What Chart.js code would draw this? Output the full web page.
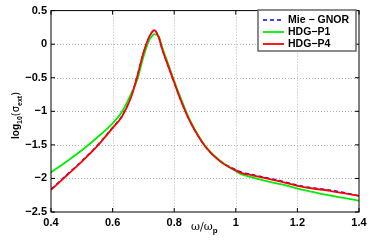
<!DOCTYPE html>
<html>
<head>
<meta charset="utf-8">
<script src="https://cdn.jsdelivr.net/npm/chart.js@4.4.1/dist/chart.umd.min.js"></script>
<style>
  html, body { margin: 0; padding: 0; background: #fff; }
  #wrap { width: 374px; height: 242px; }
</style>
</head>
<body>
<div id="wrap"><canvas id="c"></canvas></div>
<script>
// frequency ratio omega / omega_p
const freq = [0.40, 0.45, 0.50, 0.55, 0.60, 0.63, 0.66, 0.68, 0.70, 0.72, 0.73, 0.735, 0.75, 0.76, 0.78,
  0.80, 0.82, 0.85, 0.90, 0.95, 1.00, 1.02, 1.05, 1.10, 1.15, 1.20, 1.25, 1.30, 1.35, 1.40]

// log10 of extinction cross section
const mieGnor = [-2.16, -1.95, -1.74, -1.51, -1.24, -1.07, -0.78, -0.47, -0.13, 0.12, 0.19, 0.21, 0.10, -0.06, -0.32,
  -0.57, -0.82, -1.14, -1.52, -1.74, -1.87, -1.91, -1.94, -1.99, -2.04, -2.10, -2.14, -2.17, -2.21, -2.26]
const hdgP1 = [-1.91, -1.75, -1.58, -1.39, -1.18, -1.01, -0.74, -0.53, -0.19, 0.07, 0.13, 0.15, 0.11, -0.03, -0.29,
  -0.55, -0.79, -1.12, -1.51, -1.74, -1.89, -1.94, -1.98, -2.04, -2.09, -2.15, -2.20, -2.25, -2.29, -2.33]
const hdgP4 = [-2.17, -1.96, -1.75, -1.52, -1.25, -1.08, -0.79, -0.48, -0.13, 0.12, 0.19, 0.21, 0.10, -0.06, -0.32,
  -0.57, -0.82, -1.14, -1.52, -1.75, -1.88, -1.92, -1.95, -2.00, -2.05, -2.11, -2.15, -2.18, -2.22, -2.26]

const xTicks = [0.4, 0.6, 0.8, 1, 1.2, 1.4]
const yTicks = [0.5, 0, -0.5, -1, -1.5, -2, -2.5]

const toPoints = ys => ys.map((y, i) => ({ x: freq[i], y: y }))
const fmt = v => String(v).replace('-', '\u2212')
const tickFont = { family: 'Liberation Sans', size: 11, weight: 'bold' }
const noGrid = { color: 'rgba(0,0,0,0)', drawTicks: false }

const grid = {
  id: 'dottedGrid',
  beforeDatasetsDraw(chart) {
    const { ctx, chartArea: a, scales } = chart
    ctx.save()
    ctx.strokeStyle = '#b4b4b4'
    ctx.lineWidth = 1
    ctx.setLineDash([1, 2])
    ctx.beginPath()
    xTicks.slice(1, -1).forEach(t => {
      const px = Math.round(scales.x.getPixelForValue(t)) + 0.5
      ctx.moveTo(px, a.top); ctx.lineTo(px, a.bottom)
    })
    yTicks.slice(1, -1).forEach(t => {
      const py = Math.round(scales.y.getPixelForValue(t)) + 0.5
      ctx.moveTo(a.left, py); ctx.lineTo(a.right, py)
    })
    ctx.stroke()
    ctx.restore()
  }
}

const frame = {
  id: 'frame',
  afterDatasetsDraw(chart) {
    const { ctx, chartArea: a, scales } = chart
    ctx.save()
    ctx.strokeStyle = '#000'
    ctx.lineWidth = 1
    ctx.strokeRect(a.left, a.top, a.right - a.left, a.bottom - a.top)
    ctx.beginPath()
    xTicks.forEach(t => {
      const px = scales.x.getPixelForValue(t)
      ctx.moveTo(px, a.bottom); ctx.lineTo(px, a.bottom - 4)
      ctx.moveTo(px, a.top); ctx.lineTo(px, a.top + 4)
    })
    yTicks.forEach(t => {
      const py = scales.y.getPixelForValue(t)
      ctx.moveTo(a.left, py); ctx.lineTo(a.left + 4, py)
      ctx.moveTo(a.right, py); ctx.lineTo(a.right - 4, py)
    })
    ctx.stroke()

    // legend box
    const lx = 258, ly = 10, lw = 98, lh = 41
    ctx.fillStyle = '#fff'
    ctx.fillRect(lx, ly, lw, lh)
    ctx.strokeStyle = '#666'
    ctx.lineWidth = 1.5
    ctx.strokeRect(lx, ly, lw, lh)
    ctx.font = 'bold 10.5px Liberation Sans'
    ctx.textBaseline = 'middle'
    chart.data.datasets.forEach((ds, i) => {
      const y = ly + 10 + i * 12
      ctx.beginPath()
      ctx.strokeStyle = ds.borderColor
      ctx.lineWidth = ds.borderWidth
      ctx.setLineDash(ds.borderDash || [])
      ctx.moveTo(263, y); ctx.lineTo(284, y)
      ctx.stroke()
      ctx.setLineDash([])
      ctx.fillStyle = '#000'
      ctx.fillText(ds.label, 288, y + 0.5)
    })

    // axis titles
    ctx.fillStyle = '#000'
    ctx.font = '11px DejaVu Serif'
    ctx.textBaseline = 'alphabetic'
    ctx.fillText('\u03c9/\u03c9', 191, 230)
    let w = ctx.measureText('\u03c9/\u03c9').width
    ctx.font = 'bold 8px Liberation Sans'
    ctx.fillText('p', 191 + w, 233)

    ctx.translate(19, 139)
    ctx.rotate(-Math.PI / 2)
    let x = 0
    const part = (t, f, dy) => { ctx.font = f; ctx.fillText(t, x, dy); x += ctx.measureText(t).width }
    part('log', 'bold 10px Liberation Sans', 0)
    part('10', 'bold 7px Liberation Sans', 3)
    part('(\u03c3', '10px DejaVu Sans', 0)
    part('ext', 'bold 7px Liberation Sans', 3)
    part(')', '10px DejaVu Sans', 0)
    ctx.restore()
  }
}

new Chart(document.getElementById('c'), {
  type: 'line',
  data: {
    datasets: [
      { label: 'Mie \u2212 GNOR', data: toPoints(mieGnor), borderColor: '#0000ff', borderWidth: 1.4, borderDash: [4, 3], order: 2 },
      { label: 'HDG\u2212P1', data: toPoints(hdgP1), borderColor: '#00ee00', borderWidth: 1.8, order: 1 },
      { label: 'HDG\u2212P4', data: toPoints(hdgP4), borderColor: '#ff0000', borderWidth: 1.8, order: 0 }
    ]
  },
  options: {
    responsive: true,
    maintainAspectRatio: false,
    animation: false,
    layout: { padding: { left: 0, right: 15, top: 10, bottom: 0 } },
    elements: { point: { radius: 0 }, line: { cubicInterpolationMode: 'monotone' } },
    plugins: { legend: { display: false }, tooltip: { enabled: false } },
    scales: {
      x: {
        type: 'linear', min: 0.4, max: 1.4,
        afterBuildTicks: s => { s.ticks = xTicks.map(v => ({ value: v })) },
        afterFit: s => { s.height = 30 },
        grid: noGrid,
        border: { display: false },
        ticks: { color: '#000', font: tickFont, padding: 4, maxRotation: 0, callback: v => fmt(v) }
      },
      y: {
        min: -2.5, max: 0.5,
        afterBuildTicks: s => { s.ticks = yTicks.map(v => ({ value: v })) },
        afterFit: s => { s.width = 51 },
        grid: noGrid,
        border: { display: false },
        ticks: { color: '#000', font: tickFont, padding: 4, callback: v => fmt(v) }
      }
    }
  },
  plugins: [grid, frame]
})
</script>
</body>
</html>
